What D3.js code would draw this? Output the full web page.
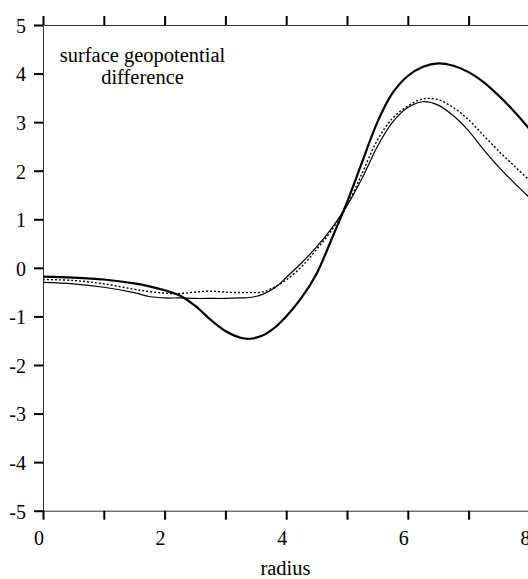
<!DOCTYPE html>
<html>
  <head>
    <script src="https://cdn.jsdelivr.net/npm/d3@7"></script>
    <style>
      body { margin: 0; background: #fff; }
      text { font-family: "Liberation Serif", "DejaVu Serif", serif; fill: #000; }
    </style>
  </head>
  <body>
    <svg id="chart" width="528" height="579"></svg>
    <script>
    // values
    var radius = [0, 0.5, 1, 1.5, 1.75, 2, 2.25, 2.5, 2.75, 3, 3.25, 3.4, 3.6, 3.8, 4, 4.25, 4.5, 4.75, 5, 5.25, 5.5, 5.75, 6, 6.25, 6.5, 6.75, 7, 7.25, 7.5, 7.75, 8];
    var thickSeries = [-0.18, -0.20, -0.24, -0.32, -0.38, -0.46, -0.57, -0.78, -1.06, -1.30, -1.44, -1.46, -1.40, -1.24, -1.00, -0.62, -0.12, 0.60, 1.35, 2.18, 3.00, 3.60, 3.95, 4.14, 4.21, 4.16, 4.03, 3.82, 3.54, 3.22, 2.86];
    var dottedSeries = [-0.24, -0.26, -0.33, -0.44, -0.49, -0.52, -0.53, -0.50, -0.48, -0.50, -0.51, -0.51, -0.50, -0.40, -0.25, 0.02, 0.38, 0.78, 1.28, 1.95, 2.63, 3.08, 3.33, 3.48, 3.46, 3.30, 3.05, 2.72, 2.40, 2.10, 1.80];
    var thinSeries = [-0.30, -0.33, -0.40, -0.51, -0.59, -0.62, -0.62, -0.63, -0.63, -0.63, -0.62, -0.61, -0.55, -0.42, -0.20, 0.10, 0.43, 0.82, 1.28, 1.85, 2.50, 3.00, 3.30, 3.42, 3.35, 3.13, 2.82, 2.43, 2.07, 1.75, 1.45];
    var xTicks = [0, 1, 2, 3, 4, 5, 6, 7, 8];
    var xTickLabels = ["0", "", "2", "", "4", "", "6", "", "8"];
    var yTicks = [-5, -4, -3, -2, -1, 0, 1, 2, 3, 4, 5];
    var titleLines = ["surface geopotential", "difference"];
    var xTitle = "radius";

    var svg = d3.select("#chart");
    var x = d3.scaleLinear().domain([0, 8]).range([43, 529.4]);
    var y = d3.scaleLinear().domain([-5, 5]).range([510.7, 25]);

    function styleAxis(g){
      g.select(".domain").attr("stroke", "#333").attr("stroke-width", 1);
      g.selectAll(".tick line").attr("stroke", "#000").attr("stroke-width", 2);
      g.selectAll(".tick text").style("font-size", "20px").attr("fill", "#000");
    }

    svg.append("g")
      .attr("transform", "translate(0," + y(5) + ")")
      .call(d3.axisTop(x).tickValues(xTicks).tickSize(9).tickSizeOuter(0).tickFormat(""))
      .call(styleAxis);

    svg.append("g")
      .attr("transform", "translate(0," + y(-5) + ")")
      .call(d3.axisBottom(x).tickValues(xTicks).tickSize(9).tickSizeOuter(0)
        .tickFormat(function(d, i){ return xTickLabels[i]; }))
      .call(styleAxis)
      .call(function(g){
        g.selectAll(".tick text").attr("y", 34.3).attr("dy", null).attr("dx", -4.5);
      });

    svg.append("g")
      .attr("transform", "translate(" + x(0) + ",0)")
      .call(d3.axisLeft(y).tickValues(yTicks).tickSize(9).tickPadding(8).tickSizeOuter(0)
        .tickFormat(function(d){ return String(d); }))
      .call(styleAxis)
      .call(function(g){
        g.selectAll(".tick text").attr("dy", "0.37em");
      });

    var line = d3.line()
      .x(function(d){ return x(d[0]); })
      .y(function(d){ return y(d[1]); })
      .curve(d3.curveCatmullRom.alpha(0.5));

    function pairs(vals){ return radius.map(function(r, i){ return [r, vals[i]]; }); }

    svg.append("path").datum(pairs(thinSeries))
      .attr("d", line).attr("fill", "none")
      .attr("stroke", "#000").attr("stroke-width", 1.2);
    svg.append("path").datum(pairs(dottedSeries))
      .attr("d", line).attr("fill", "none")
      .attr("stroke", "#000").attr("stroke-width", 1.4).attr("stroke-dasharray", "2,2");
    svg.append("path").datum(pairs(thickSeries))
      .attr("d", line).attr("fill", "none")
      .attr("stroke", "#000").attr("stroke-width", 2.2);

    svg.append("g").selectAll("text")
      .data(titleLines)
      .enter().append("text")
      .attr("x", 142.5)
      .attr("y", function(d, i){ return 61.7 + i * 21.8; })
      .attr("text-anchor", "middle")
      .style("font-size", "20.5px")
      .text(function(d){ return d; });

    svg.append("text")
      .attr("x", 285.5).attr("y", 575)
      .attr("text-anchor", "middle")
      .style("font-size", "20.5px")
      .text(xTitle);
    </script>
  </body>
</html>
